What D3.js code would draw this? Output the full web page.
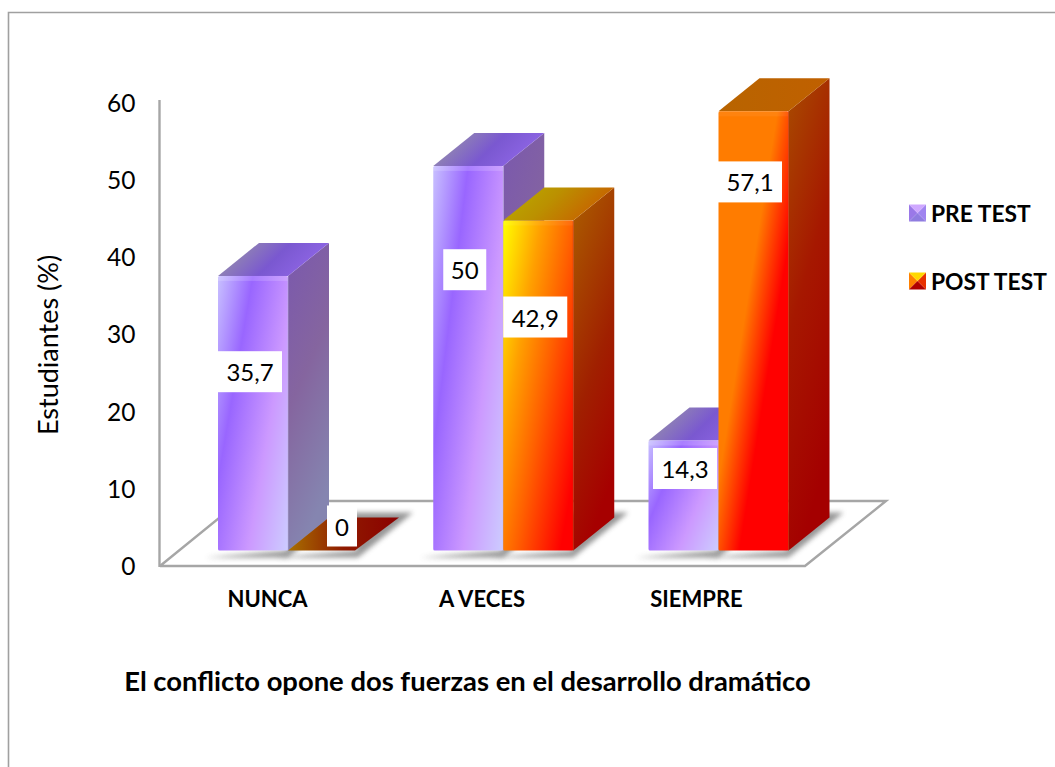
<!DOCTYPE html>
<html><head><meta charset="utf-8">
<script src="https://cdnjs.cloudflare.com/ajax/libs/d3/7.8.5/d3.min.js"></script>
<style>html,body{margin:0;padding:0;background:#fff;overflow:hidden}svg{display:block}text{font-family:Lato,"Open Sans",sans-serif;fill:#000}</style>
</head><body><script>
const categories = ["NUNCA", "A VECES", "SIEMPRE"];
const seriesNames = ["PRE TEST", "POST TEST"];
const preTest = [35.7, 50, 14.3];
const postTest = [0, 42.9, 57.1];
const labels = {"PRE TEST": ["35,7", "50", "14,3"], "POST TEST": ["0", "42,9", "57,1"]};
const yTicks = [0, 10, 20, 30, 40, 50, 60];
const yTitle = "Estudiantes (%)";
const xTitle = "El conflicto opone dos fuerzas en el desarrollo dramático";

// layout
const W = 1055, H = 767, barW = 70, dx = 41, dy = -33;
const svg = d3.select("body").append("svg").attr("width", W).attr("height", H);
const defs = svg.append("defs");
const x = d3.scalePoint().domain(categories).range([288, 718.5]);
const xLabel = d3.scalePoint().domain(categories).range([267, 696]);
const series = d3.scaleBand().domain(seriesNames).range([-barW, barW]);
const y = d3.scaleLinear().domain([0, 60]).range([550.5, 89]);
const yAxisScale = d3.scaleLinear().domain([0, 60]).range([566.5, 103.5]);
const GRAY = "#a6a6a6";

function grad(id, stops, x2, y2) {
  const g = defs.append("linearGradient").attr("id", id)
    .attr("x1", 0).attr("y1", 0).attr("x2", x2).attr("y2", y2);
  stops.forEach(s => g.append("stop").attr("offset", s[0]).attr("stop-color", s[1]));
}
grad("preFront", [[0,"#c8c0ff"],[.3,"#9966ff"],[.66,"#cc99ff"],[1,"#ccccff"]], 1.15, .77);
grad("preSide", [[0,"#7a58ae"],[.5,"#85659f"],[1,"#8585b0"]], .3, 1);
grad("preTop", [[0,"#9a92bc"],[.3,"#8c7cb8"],[.6,"#7a58d0"],[1,"#8f66e6"]], 1, .3);
grad("postFrontA", [[0,"#ffff00"],[.3,"#ffa000"],[.55,"#ff6000"],[.9,"#ff0000"],[1,"#ff0000"]], 1.09, .89);
grad("postFrontB", [[0,"#ff7c00"],[.42,"#ff7c00"],[.65,"#ff0000"],[1,"#ff0000"]], 1, 1);
grad("postSideA", [[0,"#ab6000"],[.6,"#a02000"],[1,"#a60000"]], .3, 1);
grad("postSideB", [[0,"#a84c00"],[.5,"#a61800"],[1,"#a40000"]], .3, 1);
grad("postTopA", [[0,"#b8b000"],[.5,"#bb9000"],[1,"#c86000"]], 1, .3);
grad("postTopB", [[0,"#b86400"],[1,"#c06000"]], 1, 0);
grad("postFlat", [[0,"#a87000"],[.5,"#8f1a00"],[1,"#8b0000"]], 1, 0);
defs.append("filter").attr("id","blur").attr("x","-20%").attr("y","-30%").attr("width","140%").attr("height","160%")
  .append("feGaussianBlur").attr("stdDeviation", 2.6);

// outer frame
svg.append("path").attr("d", d3.line()([[8.5, H], [8.5, 12.5], [W, 12.5]]))
  .attr("fill", "none").attr("stroke", "#a0a0a0").attr("stroke-width", 1.6);

// floor and wall
svg.append("path").attr("d", d3.line()([[160,566],[805,566],[886,501],[240,501],[160,566]]))
  .attr("fill", "#fff").attr("stroke", GRAY).attr("stroke-width", 2.4).attr("stroke-linejoin","miter");
svg.append("line").attr("x1",159.5).attr("x2",159.5).attr("y1",100).attr("y2",567)
  .attr("stroke", GRAY).attr("stroke-width", 2.4);

// y axis
const yAxis = d3.axisLeft(yAxisScale).tickValues(yTicks).tickSize(0).tickPadding(24);
const gy = svg.append("g").attr("transform","translate(159.5,0)").call(yAxis);
gy.select(".domain").remove();
gy.selectAll("text").attr("font-size", 24.5);
svg.append("text").attr("transform","translate(47,345) rotate(-90)").attr("text-anchor","middle")
  .attr("dominant-baseline","central").attr("font-size",27).text(yTitle);

// x axis labels
const xAxis = d3.axisBottom(xLabel).tickSize(0).tickPadding(0);
const gx = svg.append("g").attr("transform","translate(0,591)").call(xAxis);
gx.select(".domain").remove();
gx.selectAll("text").attr("font-size", 22).attr("font-weight", 700);
svg.append("text").attr("x",467.5).attr("y",680).attr("text-anchor","middle")
  .attr("dominant-baseline","central").attr("font-size",27.4).attr("font-weight",700).text(xTitle);

// bars
const rows = [];
categories.forEach((c, i) => {
  rows.push({c, i, s: "PRE TEST", v: preTest[i]});
  rows.push({c, i, s: "POST TEST", v: postTest[i]});
});
const pathOf = pts => d3.line()(pts) + "Z";
const base = y(0);
// shadows first
svg.append("g").selectAll("path").data(rows).join("path")
  .attr("filter","url(#blur)").attr("fill","#757575").attr("opacity",.75)
  .attr("d", d => {
    const x0 = x(d.c) + series(d.s);
    return pathOf([[x0-13,base+7],[x0+barW,base+7],[x0+barW+dx+14,base+dy-5],[x0+dx,base+dy-5],[x0+barW,base]]);
  });

const gBars = svg.append("g");
rows.forEach(d => {
  const x0 = x(d.c) + series(d.s), x1 = x0 + barW, t = y(d.v);
  const pre = d.s === "PRE TEST";
  const key = d.i === 1 ? "A" : "B";
  const front = pre ? "preFront" : "postFront" + key;
  const side = pre ? "preSide" : "postSide" + key;
  const top = pre ? "preTop" : "postTop" + key;
  const g = gBars.append("g");
  if (d.v === 0) {
    g.append("path").attr("fill","url(#postFlat)")
      .attr("d", pathOf([[x0,base],[x1-3,base],[x1+dx,base+dy],[x0+dx,base+dy]]));
    return;
  }
  g.append("path").attr("fill",`url(#${side})`)
    .attr("d", pathOf([[x1,t],[x1+dx,t+dy],[x1+dx,base+dy],[x1,base]]));
  g.append("path").attr("fill",`url(#${top})`)
    .attr("d", pathOf([[x0,t],[x0+dx,t+dy],[x1+dx,t+dy],[x1,t]]));
  g.append("rect").attr("x",x0).attr("y",t).attr("width",barW).attr("height",base-t)
    .attr("rx",1.5).attr("fill",`url(#${front})`);
  // bevel highlights
  g.append("rect").attr("x",x0).attr("y",t).attr("width",barW).attr("height",5)
    .attr("fill","#fff").attr("opacity",pre ? .16 : .06);
  g.append("line").attr("x1",x1).attr("x2",x1).attr("y1",t).attr("y2",base)
    .attr("stroke", pre ? "#b9b0e0" : "#c03000").attr("stroke-width",1).attr("opacity",.6);
});

// data labels: centre offset from the bar front's centre
const labelOffset = {
  "NUNCA|PRE TEST": [-3, -41.5], "NUNCA|POST TEST": [19, -24.5],
  "A VECES|PRE TEST": [-3.5, -88.5], "A VECES|POST TEST": [-3, -68.5],
  "SIEMPRE|PRE TEST": [1.5, -27], "SIEMPRE|POST TEST": [-3.5, -149]
};
const labelBox = {"0": 30, "50": 43};
const gLab = svg.append("g");
rows.forEach(d => {
  const off = labelOffset[d.c + "|" + d.s];
  const txt = labels[d.s][d.i];
  const cx = x(d.c) + series(d.s) + barW/2 + off[0];
  const cy = (y(d.v) + base)/2 + off[1];
  const w = labelBox[txt] || 64;
  gLab.append("rect").attr("x",cx-w/2).attr("y",cy-20.5).attr("width",w).attr("height",41).attr("fill","#fff");
  gLab.append("text").attr("x",cx).attr("y",cy).attr("text-anchor","middle")
    .attr("dominant-baseline","central").attr("font-size",24).text(txt);
});

// legend
const legendY = d3.scalePoint().domain(seriesNames).range([213, 281]);
const swatchFaces = {
  "PRE TEST": ["#cfa8ff","#9a78e8","#8f7ce0","#a084f0"],
  "POST TEST": ["#ffd800","#ff8000","#b00000","#e83000"]
};
const S = 8.5, LX = 917.5;
seriesNames.forEach(n => {
  const cy = legendY(n), c = swatchFaces[n], g = svg.append("g");
  const tl=[LX-S,cy-S], tr=[LX+S,cy-S], br=[LX+S,cy+S], bl=[LX-S,cy+S], m=[LX,cy];
  g.append("path").attr("d",pathOf([tl,bl,m])).attr("fill",c[1]);
  g.append("path").attr("d",pathOf([bl,br,m])).attr("fill",c[2]);
  g.append("path").attr("d",pathOf([tr,br,m])).attr("fill",c[3]);
  g.append("path").attr("d",pathOf([tl,tr,m])).attr("fill",c[0]);
  svg.append("text").attr("x",931).attr("y",cy).attr("dominant-baseline","central")
    .attr("font-size",22.8).attr("font-weight",700).text(n);
});
</script></body></html>
